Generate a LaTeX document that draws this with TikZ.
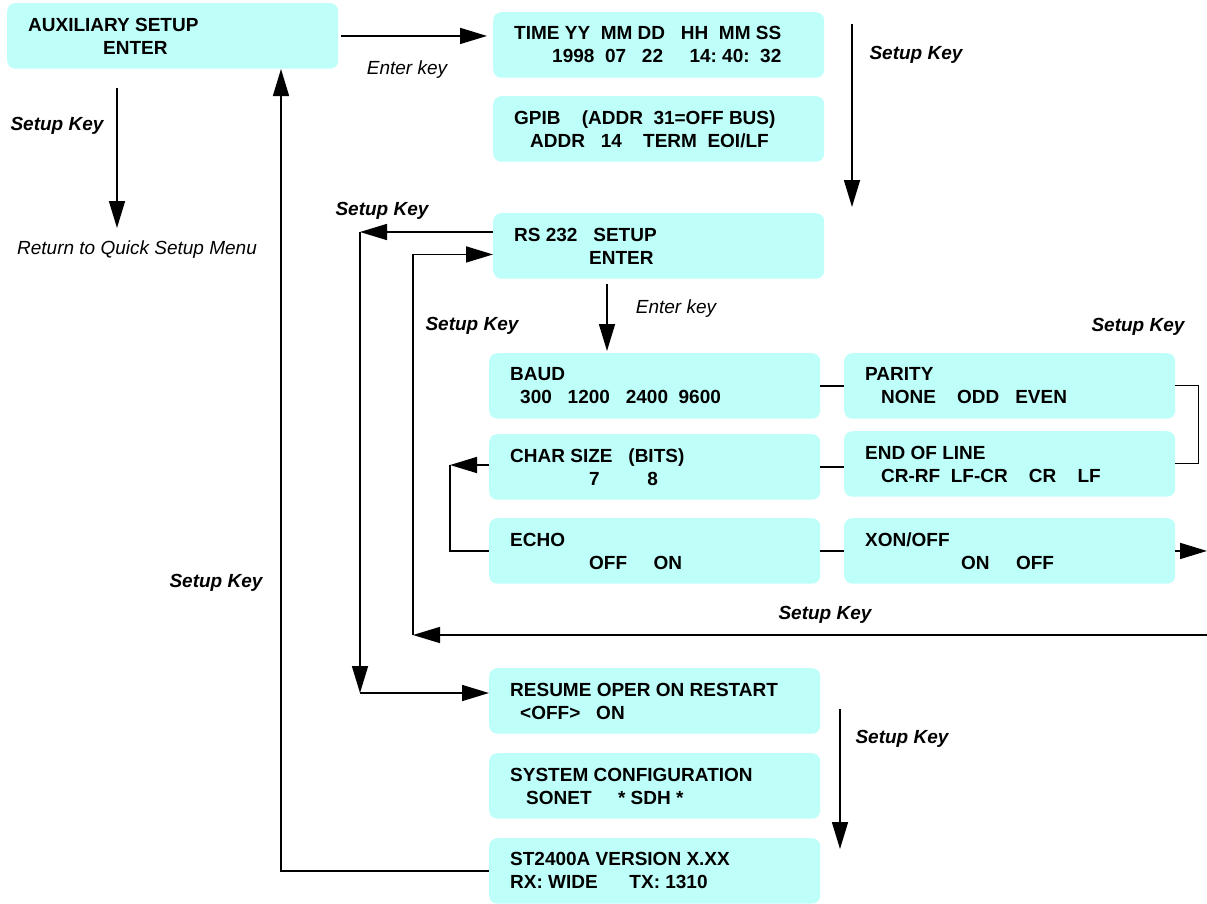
\documentclass[tikz,border=0pt]{standalone}
\usepackage{fontspec}
\setmainfont{Liberation Sans}
\usetikzlibrary{arrows.meta}
\definecolor{lcd}{RGB}{191,255,250}

\begin{document}
\begin{tikzpicture}[x=1pt,y=-1pt,
    menu/.style={fill=lcd,rounded corners=8pt,anchor=north west,minimum width=331pt,minimum height=65.5pt,
        text width=289pt,inner xsep=21pt,inner ysep=0pt,align=flush left,
        font=\fontsize{19}{23}\selectfont\bfseries\frenchspacing},
    key/.style={font=\fontsize{19}{23}\selectfont\bfseries\itshape},
    hint/.style={font=\fontsize{19}{23}\selectfont\itshape},
    arr/.style={-{Triangle[length=27pt,width=16pt]},line width=1.6pt},
    ln/.style={line width=1.6pt}]
    \useasboundingbox (0,0) rectangle (1207,903);

    \node[menu] (aux) at (7,3) {AUXILIARY SETUP\\\hspace*{75pt}ENTER};
    \node[menu] (time) at (493,12) {TIME YY~~MM DD~~~HH~~MM SS\\\hspace*{38pt}1998~~07~~~22~~~~~14:~40:~~32};
    \node[menu] (gpib) at (493,96) {GPIB~~~~(ADDR~~31=OFF BUS)\\\hspace*{16pt}ADDR~~~14~~~~TERM~~EOI/LF};
    \node[menu] (rs) at (493,213) {RS 232~~~SETUP\\\hspace*{75pt}ENTER};
    \node[menu] (baud) at (489,353) {BAUD\\\hspace*{10pt}300~~~1200~~~2400~~9600};
    \node[menu] (char) at (489,434) {CHAR SIZE~~~(BITS)\\\hspace*{79pt}7~~~~~~~~~8};
    \node[menu] (echo) at (489,518) {ECHO\\\hspace*{79pt}OFF~~~~~ON};
    \node[menu] (parity) at (844,353) {PARITY\\\hspace*{16pt}NONE~~~~ODD~~~EVEN};
    \node[menu] (eol) at (844,431) {END OF LINE\\\hspace*{16pt}CR-RF~~LF-CR~~~~CR~~~~LF};
    \node[menu] (xon) at (844,518) {XON/OFF\\\hspace*{96pt}ON~~~~~OFF};
    \node[menu] (resume) at (489,668) {RESUME OPER ON RESTART\\\hspace*{10pt}<OFF>~~~ON};
    \node[menu] (sys) at (489,753) {SYSTEM CONFIGURATION\\\hspace*{16pt}SONET~~~~~* SDH *};
    \node[menu] (st) at (489,838) {ST2400A VERSION X.XX\\RX: WIDE~~~~~~TX: 1310};

    \node[hint] (ek1) at (407,70) {Enter key};
    \node[key] (sk1) at (57,126) {Setup Key};
    \node[hint] (ret) at (137,250) {Return to Quick Setup Menu};
    \node[key] (sk2) at (916,55) {Setup Key};
    \node[key] (sk3) at (382,211) {Setup Key};
    \node[key] (sk4) at (472,326) {Setup Key};
    \node[hint] (ek2) at (676,309) {Enter key};
    \node[key] (sk5) at (1138,327) {Setup Key};
    \node[key] (sk6) at (825,615) {Setup Key};
    \node[key] (sk7) at (216,583) {Setup Key};
    \node[key] (sk8) at (902,739) {Setup Key};

    \coordinate (q0) at (117,88);
    \coordinate (q1) at (117,228);
    \coordinate (up) at (281,69);
    \coordinate (t0) at (852,24);
    \coordinate (t1) at (852,207);
    \coordinate (l0) at (360,232);
    \coordinate (l1) at (360,693);
    \coordinate (r0) at (1207,635);
    \coordinate (r1) at (413,635);
    \coordinate (e0) at (607,284);
    \coordinate (br) at (1198,400);
    \coordinate (cz) at (450,465);
    \coordinate (b0) at (840,709);
    \coordinate (b1) at (840,849);

    \draw[arr] ([xshift=3pt]aux.east) -- ([xshift=-6pt]aux.east -| time.west);
    \draw[arr] (q0) -- (q1);
    \draw[arr] (st.west) -| (up);
    \draw[arr] (t0) -- (t1);
    \draw[arr] (rs.west |- l0) -- (l0);
    \draw[arr] (l0) -- (l1);
    \draw[arr] (l1) -- (l1 -| resume.west);
    \draw[arr] (r0) -- (r1);
    \draw[arr] (r1) |- ([yshift=-8.5pt]rs.west);
    \draw[arr] (e0) -- ([yshift=2pt]e0 |- baud.north);
    \draw[ln] (baud) -- (parity);
    \draw[ln] (char.east) -- (char.east -| eol.west);
    \draw[ln] (echo) -- (xon);
    \draw[line width=1pt] (parity.east) -| (br |- eol.east) -- (eol.east);
    \draw[arr] (xon.east) -- (xon.east -| r0);
    \draw[arr] (char.west |- cz) -- (cz);
    \draw[ln] (cz) |- (echo.west);
    \draw[arr] (b0) -- (b1);
\end{tikzpicture}
\end{document}
